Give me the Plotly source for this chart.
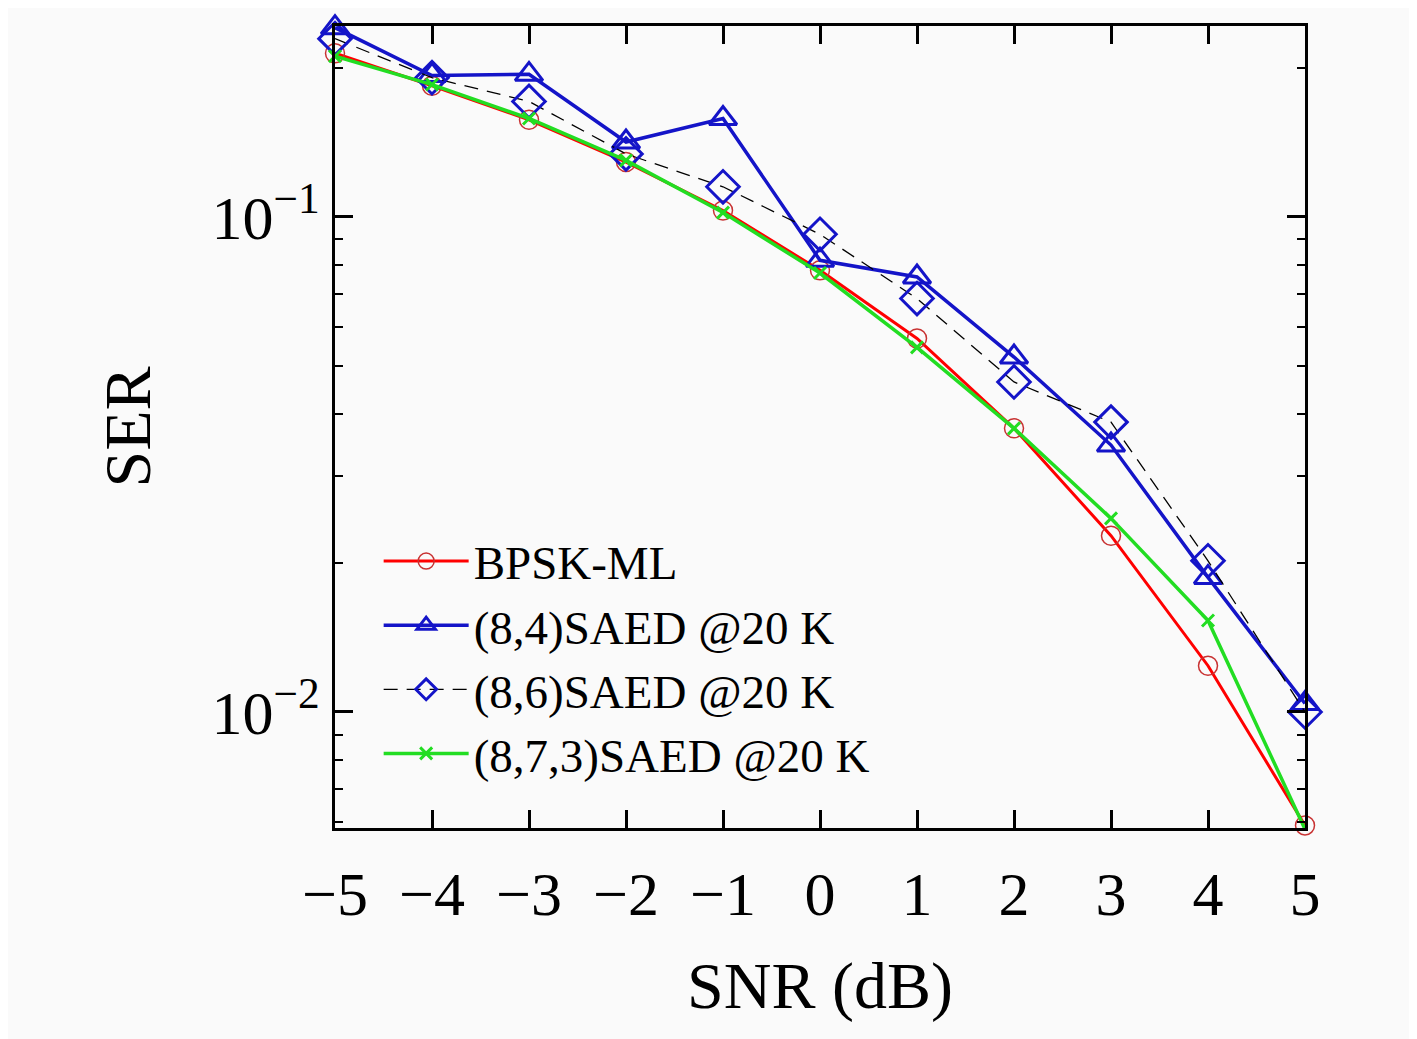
import math
import plotly.graph_objects as go

# SNR values (dB)
snr = [-5, -4, -3, -2, -1, 0, 1, 2, 3, 4, 5]

# SER curves
ser_bpsk_ml = [0.214, 0.184, 0.157, 0.129, 0.103, 0.078, 0.0568, 0.0374, 0.0227, 0.0124, 0.0059]
ser_saed_84 = [0.241, 0.193, 0.194, 0.1416, 0.158, 0.0817, 0.0756, 0.0521, 0.0346, 0.0187, 0.0104]
ser_saed_86 = [0.229, 0.191, 0.171, 0.134, 0.115, 0.0922, 0.0684, 0.0464, 0.0385, 0.0202, 0.0100]
ser_saed_873 = [0.211, 0.185, 0.158, 0.130, 0.102, 0.077, 0.0545, 0.0374, 0.0246, 0.0153, 0.0058]

names = ["BPSK-ML", "(8,4)SAED @20 K", "(8,6)SAED @20 K", "(8,7,3)SAED @20 K"]

y_major = [0.01, 0.1]
y_major_text = ["10<sup>\u22122</sup>", "10<sup>\u22121</sup>"]
x_tick_text = ["\u22125", "\u22124", "\u22123", "\u22122", "\u22121", "0", "1", "2", "3", "4", "5"]

font_family = "Liberation Serif"
bg = "#fafafa"

fig = go.Figure()

# BPSK-ML: red line, small open circles
fig.add_trace(go.Scatter(
    x=snr, y=ser_bpsk_ml, name=names[0], mode="lines+markers",
    line=dict(color="#ff0000", width=3),
    marker=dict(symbol="circle-open", size=19, color="#c83232", line=dict(width=1.5)),
    cliponaxis=False,
))

# (8,4): blue line, open triangles
fig.add_trace(go.Scatter(
    x=snr, y=ser_saed_84, name=names[1], mode="lines+markers",
    line=dict(color="#1414c8", width=3.5),
    marker=dict(symbol="triangle-up-open", size=24, color="#1414c8", line=dict(width=3)),
    cliponaxis=False,
))

# (8,6): thin black dashed line, blue open diamonds
fig.add_trace(go.Scatter(
    x=snr, y=ser_saed_86, name=names[2], mode="lines+markers",
    line=dict(color="#000000", width=1.3, dash="14px,9px"),
    marker=dict(symbol="diamond-open", size=25, color="#1414c8", line=dict(width=3)),
    cliponaxis=False,
))

# (8,7,3): green line, small crosses
fig.add_trace(go.Scatter(
    x=snr, y=ser_saed_873, name=names[3], mode="lines+markers",
    line=dict(color="#22dd22", width=3.5),
    marker=dict(symbol="x-thin-open", size=12, color="#22dd22", line=dict(width=3, color="#22dd22")),
    cliponaxis=False,
))

minor_vals = [m * 10 ** e for e in (-3, -2, -1) for m in range(2, 10)]

fig.update_xaxes(
    range=[-5, 5],
    tickvals=snr, ticktext=x_tick_text,
    ticks="inside", ticklen=18, tickwidth=2.5, tickcolor="black",
    ticklabelstandoff=10,
    showline=True, linecolor="black", linewidth=3, mirror="ticks",
    showgrid=False, zeroline=False,
    tickfont=dict(family=font_family, size=62, color="black"),
    title=dict(text="SNR (dB)", font=dict(family=font_family, size=66, color="black"), standoff=35),
)

fig.update_yaxes(
    type="log",
    range=[math.log10(0.00583), math.log10(0.2429)],
    tickvals=y_major, ticktext=y_major_text,
    ticks="inside", ticklen=18, tickwidth=2.5, tickcolor="black",
    minor=dict(tickvals=minor_vals, ticks="inside", ticklen=8, tickwidth=1.5, tickcolor="black", showgrid=False),
    showline=True, linecolor="black", linewidth=3, mirror="ticks",
    showgrid=False, zeroline=False,
    tickfont=dict(family=font_family, size=62, color="black"),
    title=dict(text="SER", font=dict(family=font_family, size=66, color="black"), standoff=40),
)

# page body adds an 8px offset, so margins are trimmed by 8px
fig.update_layout(
    width=1409, height=1031,
    margin=dict(l=327, r=112, t=18, b=211),
    paper_bgcolor=bg, plot_bgcolor=bg,
    legend=dict(
        x=0.045, y=0.379, xanchor="left", yanchor="top",
        bgcolor="rgba(0,0,0,0)", borderwidth=0,
        font=dict(family=font_family, size=47, color="black"),
        itemwidth=85, tracegroupgap=0,
    ),
)

fig.write_html("out.html")
